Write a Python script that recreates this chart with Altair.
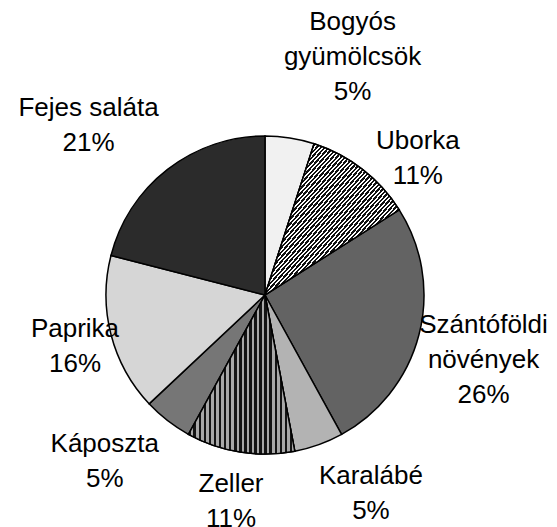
import math
import altair as alt
import pandas as pd

# ---- data ----
categories = ["Bogyós gyümölcsök", "Uborka", "Szántóföldi növények", "Karalábé",
              "Zeller", "Káposzta", "Paprika", "Fejes saláta"]
values = [5, 11, 26, 5, 11, 5, 16, 21]
label_lines = [["Bogyós", "gyümölcsök"], ["Uborka"], ["Szántóföldi", "növények"],
               ["Karalábé"], ["Zeller"], ["Káposzta"], ["Paprika"], ["Fejes saláta"]]

# ---- layout / style ----
CX, CY, R = 257, 287, 159
LH = 35
label_nudge = [3.1, 2.9, 0.6, -2.3, 0.1, 1.7, -0.25, -2.3]   # shift of label angle (% of circle)
label_radius = [254, 205, 228, 225, 209, 231, 197, 245]      # label distance from centre
grays = ["#f1f1f1", "#7a7a7a", "#636363", "#b3b3b3", "#707070", "#767676", "#d6d6d6", "#2b2b2b"]


def stripes(n, dark, light, frac_dark, x2, y2):
    stops = []
    for i in range(n):
        a = i / n
        b = (i + frac_dark) / n
        c = (i + 1) / n
        stops += [{"offset": a, "color": dark}, {"offset": b, "color": dark},
                  {"offset": b, "color": light}, {"offset": c, "color": light}]
    return {"gradient": "linear", "x1": 0, "y1": 0, "x2": x2, "y2": y2, "stops": stops}


df = pd.DataFrame({
    "cat": categories,
    "value": values,
    "order": list(range(len(categories))),
    "label": [lines + [f"{v}%"] for lines, v in zip(label_lines, values)],
    "nudge": label_nudge,
    "lr": label_radius,
})

theta_scale = alt.Scale(domain=[0, 100], range=[0, 2 * math.pi])

base = alt.Chart(df).transform_window(
    end="sum(value)", sort=[alt.SortField("order")], frame=[None, 0]
).transform_calculate(
    start="datum.end - datum.value",
    mid="datum.end - datum.value / 2 + datum.nudge",
)

arc_enc = dict(
    theta=alt.Theta("start:Q", scale=theta_scale, stack=None),
    theta2="end:Q",
    x=alt.value(CX),
    y=alt.value(CY),
)

pie = base.mark_arc(outerRadius=R, stroke="black", strokeWidth=1.5).encode(
    color=alt.Color("cat:N", scale=alt.Scale(domain=categories, range=grays), legend=None),
    **arc_enc,
)

uborka = base.transform_filter(alt.datum.cat == "Uborka").mark_arc(
    outerRadius=R, stroke="black", strokeWidth=1.5,
    fill=stripes(65, "#111111", "#ffffff", 0.55, 1, 1),
).encode(**arc_enc)

zeller = base.transform_filter(alt.datum.cat == "Zeller").mark_arc(
    outerRadius=R, stroke="black", strokeWidth=1.5,
    fill=stripes(21, "#141414", "#a8a8a8", 0.5, 1, 0),
).encode(**arc_enc)

# multi-line text is anchored at its first line: move anchor up so the block is centred
labels = base.transform_calculate(
    th="datum.mid / 100 * 2 * PI",
).transform_calculate(
    px="datum.lr * sin(datum.th)",
    py=f"-datum.lr * cos(datum.th) - (length(datum.label) - 1) * {LH / 2}",
).transform_calculate(
    th2="atan2(datum.px, -datum.py)",
    r2="sqrt(datum.px * datum.px + datum.py * datum.py)",
).transform_calculate(
    tpos="(datum.th2 < 0 ? datum.th2 + 2 * PI : datum.th2) / (2 * PI) * 100",
).mark_text(
    font="Liberation Sans", fontSize=26, lineHeight=LH, align="center",
    baseline="middle", color="black",
).encode(
    theta=alt.Theta("tpos:Q", scale=theta_scale, stack=None),
    radius=alt.Radius("r2:Q", scale=None),
    text=alt.Text("label:N"),
    x=alt.value(CX),
    y=alt.value(CY),
)

chart = alt.layer(pie, uborka, zeller, labels).properties(
    width=541, height=519, padding=0, autosize="none"
).configure_view(stroke=None)

chart.save("out.html", embed_options={"renderer": "svg", "actions": False})
